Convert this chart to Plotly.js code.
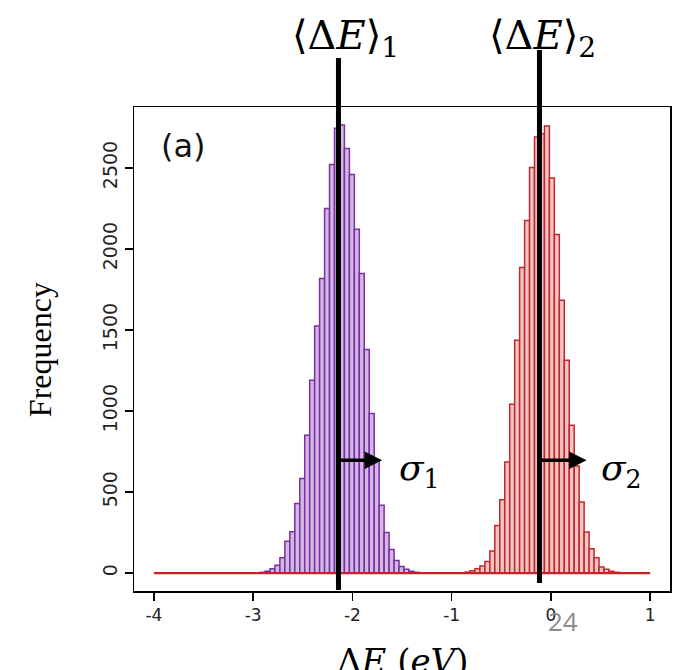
<!DOCTYPE html>
<html><head><meta charset="utf-8">
<script src="https://cdn.plot.ly/plotly-3.0.1.min.js"></script>
<style>html,body{margin:0;padding:0;background:#fff;}#chart{width:675px;height:670px;}</style>
</head><body><div id="chart"></div>
<script>
// ---- data ----
const purpleBinCenters = [-2.955,-2.905,-2.855,-2.805,-2.755,-2.705,-2.655,-2.605,-2.555,-2.505,-2.455,-2.405,-2.355,-2.305,-2.255,-2.205,-2.155,-2.105,-2.055,-2.005,-1.955,-1.905,-1.855,-1.805,-1.755,-1.705,-1.655,-1.605,-1.555,-1.505,-1.455,-1.405,-1.355,-1.305];
const purpleCounts = [2,5,12,27,48,95,196,255,430,583,850,1189,1525,1817,2249,2521,2745,2765,2620,2459,2121,1848,1380,984,690,418,250,145,78,40,23,12,5,2];
const redBinCenters = [-0.89,-0.84,-0.79,-0.74,-0.69,-0.64,-0.59,-0.54,-0.49,-0.44,-0.39,-0.34,-0.29,-0.24,-0.19,-0.14,-0.09,-0.04,0.01,0.06,0.11,0.16,0.21,0.26,0.31,0.36,0.41,0.46,0.51,0.56,0.61,0.66,0.71];
const redCounts = [2,6,15,27,43,72,136,294,453,685,1041,1436,1885,2175,2502,2691,2710,2759,2438,2089,1683,1313,912,660,438,253,150,95,37,23,12,5,2];
const binWidth = 0.05;
const histRange = [-4, 1];
const meanDE = [-2.14, -0.115];
const sigmaArrowEnd = [-1.70, 0.36];
const xTickVals = [-4,-3,-2,-1,0,1];
const xTickText = ['-4','-3','-2','-1','0','1'];
const yTickVals = [0,500,1000,1500,2000,2500];
const yTickText = ['0','500','1000','1500','2000','2500'];
const meanLabels = ['\u27E8\u0394<i>E</i>\u27E9<sub>1</sub>', '\u27E8\u0394<i>E</i>\u27E9<sub>2</sub>'];
const sigmaLabels = ['<i>\u03C3</i><sub>1</sub>', '<i>\u03C3</i><sub>2</sub>'];
const xTitle = '\u0394<i>E</i> (<i>eV</i>)';
const yTitle = 'Frequency';
const panelLabel = '(a)';
const pageNumber = '24';

// ---- chart ----
const maxCount = Math.max(...purpleCounts, ...redCounts);
const yRange = [-0.04 * maxCount, 1.04 * maxCount];
const xRange = [histRange[0] - 0.04 * (histRange[1] - histRange[0]), histRange[1] + 0.04 * (histRange[1] - histRange[0])];

const traces = [
  {type:'bar', x: purpleBinCenters, y: purpleCounts, width: binWidth,
   marker:{color:'#d2b8e3', line:{color:'#7b2fa3', width:1.5}}, hoverinfo:'skip'},
  {type:'scatter', mode:'lines', x: histRange, y:[0,0], line:{color:'#c8202a', width:2.2}, hoverinfo:'skip'},
  {type:'bar', x: redBinCenters, y: redCounts, width: binWidth,
   marker:{color:'#f1c4c4', line:{color:'#c0282e', width:1.5}}, hoverinfo:'skip'}
];

const serif = 'DejaVu Serif, Liberation Serif, serif';
const annotations = [];
const lineTops = [1.101, 1.118];
const lineBottoms = [0.002, 0.0165];
const labelShift = [7, 3];
const sigmaX = [0.49, 0.867];
for (let i = 0; i < 2; i++) {
  annotations.push({xref:'x', yref:'paper', x: meanDE[i], y: 1.143, xshift: labelShift[i],
    xanchor:'center', yanchor:'middle', showarrow:false, text: meanLabels[i],
    font:{family: serif, size:40, color:'#000'}});
  annotations.push({xref:'paper', yref:'paper', x: sigmaX[i], y: 0.25, xanchor:'left', yanchor:'middle',
    showarrow:false, text: sigmaLabels[i], font:{family: serif, size:36, color:'#000'}});
  annotations.push({xref:'x', yref:'y', x: sigmaArrowEnd[i], y: 696, axref:'x', ayref:'y',
    ax: meanDE[i], ay: 696, showarrow:true, arrowhead:2, arrowsize:1, arrowwidth:3.5,
    arrowcolor:'#000', text:'', standoff:0, startstandoff:0});
}
annotations.push({xref:'paper', yref:'paper', x:0.046, y:0.92, xanchor:'left', yanchor:'middle',
  showarrow:false, text: panelLabel, font:{family:'DejaVu Sans, sans-serif', size:32, color:'#111'}});
annotations.push({xref:'paper', yref:'paper', x:-0.175, y:0.498, xanchor:'center', yanchor:'middle',
  textangle:-90, showarrow:false, text: yTitle, font:{family:'Liberation Serif, serif', size:32, color:'#000'}});
annotations.push({xref:'paper', yref:'paper', x:0.801, y:-0.062, xanchor:'center', yanchor:'middle',
  showarrow:false, text: pageNumber, font:{family:'Open Sans, sans-serif', size:26, color:'#8c8c8c'}});
annotations.push({xref:'paper', yref:'paper', x:0.5, y:-0.1, xanchor:'center', yanchor:'top',
  showarrow:false, text: xTitle, font:{family: serif, size:34, color:'#000'}});

const shapes = meanDE.map((m, i) => ({type:'line', xref:'x', yref:'paper', x0:m, x1:m,
  y0: lineBottoms[i], y1: lineTops[i], line:{color:'#000', width:5}}));

const layout = {
  width:675, height:670,
  margin:{l:134, r:5, t:107, b:79},
  paper_bgcolor:'#fff', plot_bgcolor:'#fff',
  showlegend:false, barmode:'overlay', bargap:0,
  xaxis:{range:xRange, tickvals:xTickVals, ticktext:xTickText, showgrid:false, zeroline:false,
    showline:true, mirror:true, linecolor:'#000', linewidth:1.5,
    ticks:'outside', ticklen:8, tickwidth:1.5, tickcolor:'#000',
    tickfont:{family:'DejaVu Sans, sans-serif', size:17, color:'#222'}},
  yaxis:{range:yRange, tickvals:yTickVals, ticktext:yTickText, showgrid:false, zeroline:false,
    showline:true, mirror:true, linecolor:'#000', linewidth:1.5,
    ticks:'outside', ticklen:8, tickwidth:1.5, tickcolor:'#000', tickangle:-90,
    tickfont:{family:'DejaVu Sans, sans-serif', size:19, color:'#222'}},
  shapes: shapes,
  annotations: annotations
};

Plotly.newPlot('chart', traces, layout, {staticPlot:true, displayModeBar:false});
</script>
</body></html>
